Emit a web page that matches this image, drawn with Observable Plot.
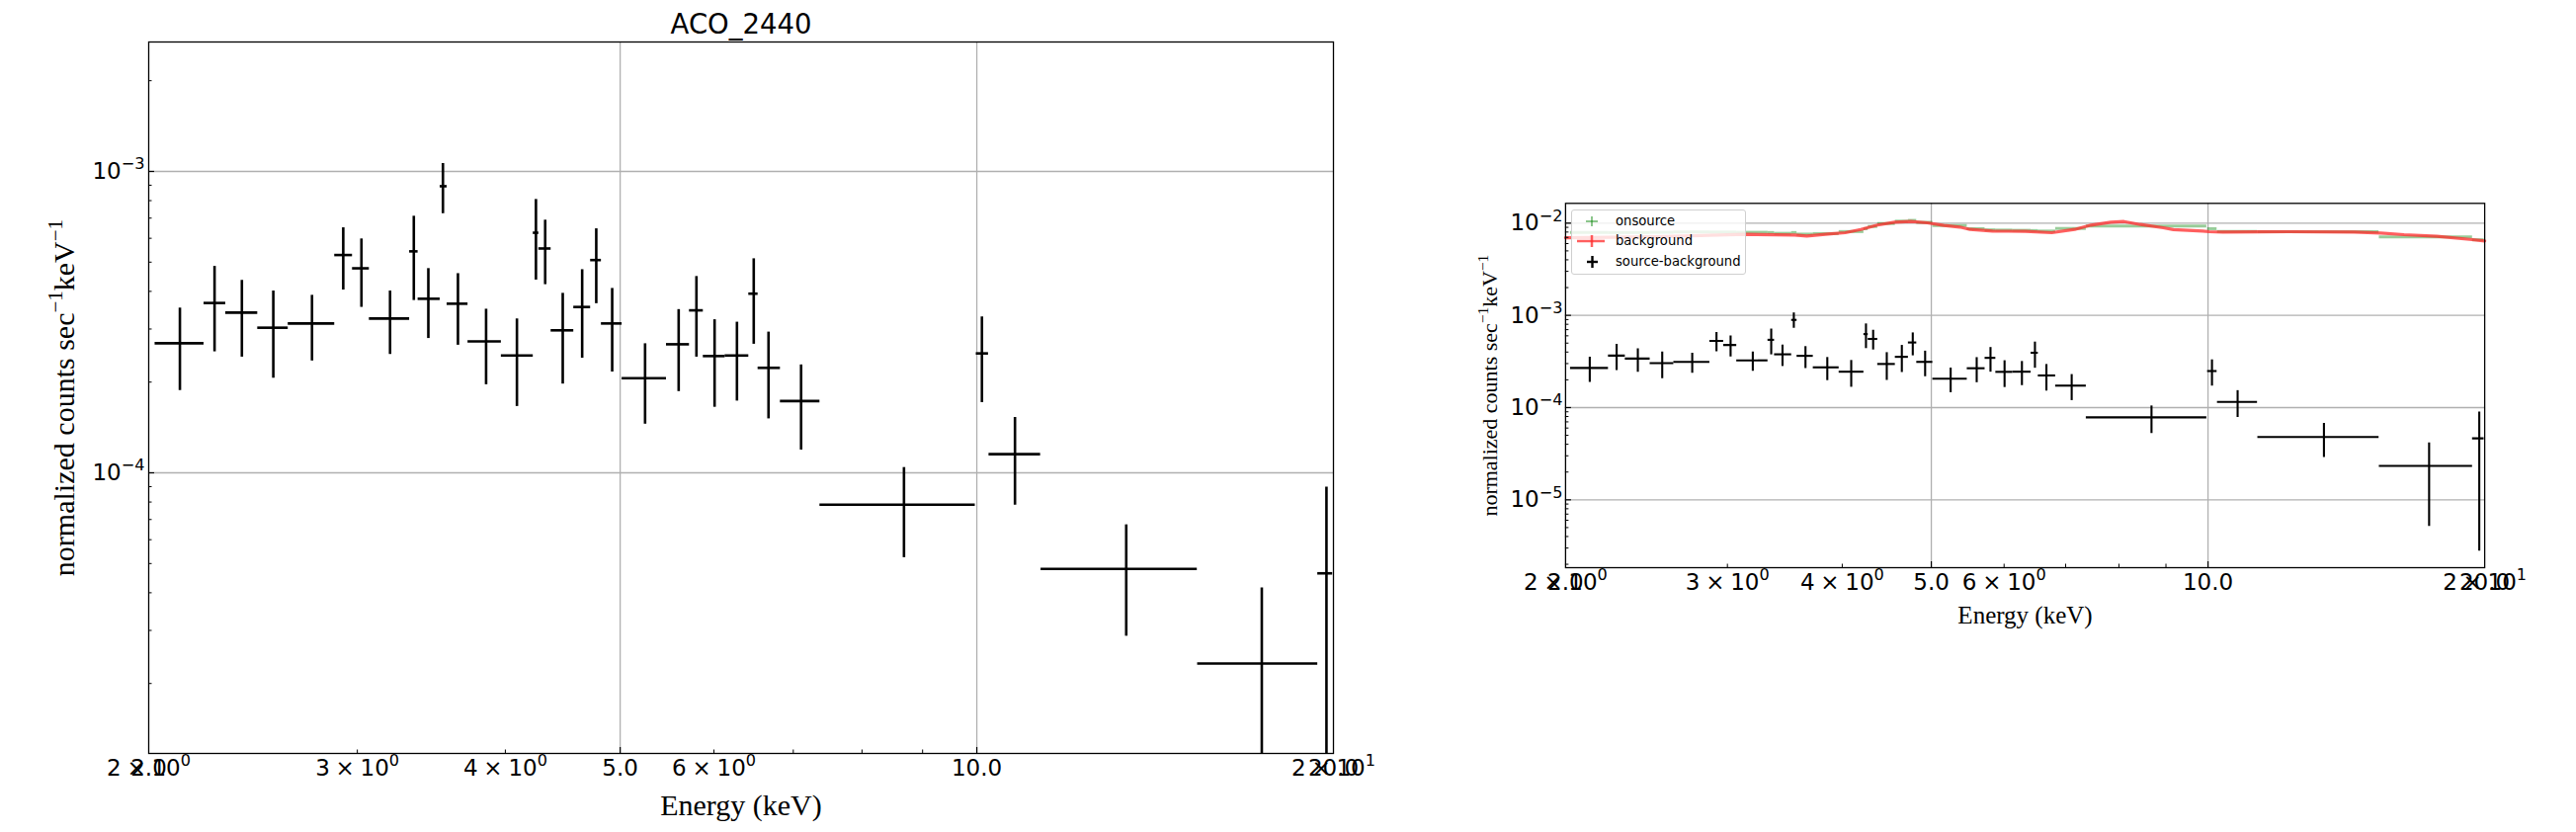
<!DOCTYPE html>
<html><head><meta charset="utf-8">
<script src="https://cdn.jsdelivr.net/npm/d3@7"></script>
<script src="https://cdn.jsdelivr.net/npm/@observablehq/plot@0.6"></script>
<style>
html,body{margin:0;padding:0;background:#fff;}
#wrap{position:relative;width:2607px;height:842px;overflow:hidden;background:#fff;}
.panel{position:absolute;top:0;}
#legend{position:absolute;left:1590px;top:212px;width:175px;height:64px;border:1.3px solid #cfcfcf;border-radius:3px;background:rgba(255,255,255,0.8);font-family:"DejaVu Sans";font-size:13.2px;color:#000;}
#legend .row{position:absolute;left:0;height:20px;width:175px;}
#legend svg{position:absolute;left:0;top:0;}
#legend span{position:absolute;left:44px;top:2px;white-space:nowrap;}
</style></head><body><div id="wrap"></div>
<script>
// ---------------- data ----------------
const title = "ACO_2440";
const xLabel = "Energy (keV)";
const yLabel = "normalized counts sec^−1keV^−1";
const seriesNames = ["onsource", "background", "source-background"];

// source-background spectrum (bin centers, bin edges, rate and error bounds)
const eCenter = [2.125, 2.273, 2.397, 2.548, 2.747, 2.919, 3.024, 3.197, 3.348, 3.444, 3.543, 3.648, 3.853, 4.091, 4.245, 4.322, 4.472, 4.644, 4.773, 4.923, 5.248, 5.602, 5.799, 6.007, 6.274, 6.482, 6.671, 7.107, 8.68, 10.10, 10.77, 13.37, 17.40, 19.73];
const eLo = [2.025, 2.227, 2.323, 2.472, 2.623, 2.871, 2.972, 3.071, 3.321, 3.376, 3.524, 3.572, 3.720, 3.969, 4.223, 4.269, 4.372, 4.569, 4.721, 4.821, 5.019, 5.471, 5.721, 5.877, 6.131, 6.420, 6.537, 6.827, 7.372, 9.99, 10.24, 11.33, 15.36, 19.40];
const eHi = [2.227, 2.323, 2.472, 2.623, 2.871, 2.972, 3.071, 3.321, 3.376, 3.524, 3.572, 3.720, 3.969, 4.223, 4.269, 4.372, 4.569, 4.721, 4.821, 5.019, 5.471, 5.721, 5.877, 6.131, 6.420, 6.537, 6.827, 7.372, 9.97, 10.23, 11.32, 15.35, 19.40, 19.97];
const rate = [2.69e-4, 3.66e-4, 3.40e-4, 3.03e-4, 3.13e-4, 5.28e-4, 4.77e-4, 3.25e-4, 5.43e-4, 3.78e-4, 8.93e-4, 3.64e-4, 2.73e-4, 2.45e-4, 6.26e-4, 5.55e-4, 2.97e-4, 3.55e-4, 5.08e-4, 3.13e-4, 2.06e-4, 2.67e-4, 3.46e-4, 2.44e-4, 2.45e-4, 3.93e-4, 2.23e-4, 1.73e-4, 7.84e-5, 2.49e-4, 1.153e-4, 4.80e-5, 2.33e-5, 4.64e-5];
const rateUp = [3.52e-4, 4.84e-4, 4.35e-4, 4.01e-4, 3.88e-4, 6.50e-4, 5.97e-4, 4.01e-4, 7.10e-4, 4.76e-4, 1.062e-3, 4.58e-4, 3.49e-4, 3.24e-4, 8.07e-4, 6.89e-4, 3.94e-4, 4.72e-4, 6.45e-4, 4.09e-4, 2.68e-4, 3.48e-4, 4.48e-4, 3.22e-4, 3.16e-4, 5.13e-4, 2.93e-4, 2.28e-4, 1.041e-4, 3.29e-4, 1.526e-4, 6.72e-5, 4.15e-5, 8.97e-5];
const rateDown = [1.875e-4, 2.52e-4, 2.42e-4, 2.06e-4, 2.35e-4, 4.04e-4, 3.54e-4, 2.47e-4, 3.73e-4, 2.79e-4, 7.24e-4, 2.65e-4, 1.96e-4, 1.66e-4, 4.36e-4, 4.21e-4, 1.97e-4, 2.40e-4, 3.64e-4, 2.16e-4, 1.45e-4, 1.86e-4, 2.42e-4, 1.65e-4, 1.73e-4, 2.67e-4, 1.51e-4, 1.19e-4, 5.23e-5, 1.71e-4, 7.81e-5, 2.87e-5, 5.13e-6, 2.77e-6];

// onsource spectrum (same bins)
const onsource = [7.9e-3, 7.9e-3, 7.9e-3, 7.95e-3, 8.0e-3, 8.0e-3, 8.0e-3, 7.95e-3, 7.9e-3, 7.75e-3, 7.9e-3, 7.6e-3, 7.7e-3, 8.1e-3, 8.7e-3, 9.2e-3, 9.9e-3, 1.05e-2, 1.07e-2, 1.02e-2, 9.4e-3, 8.7e-3, 8.45e-3, 8.4e-3, 8.35e-3, 8.3e-3, 8.2e-3, 8.75e-3, 9.28e-3, 8.7e-3, 8.1e-3, 8.05e-3, 7.08e-3, 6.6e-3];

// background spectrum (finely binned)
const bgEnergy = [2.0, 2.5, 3.14, 3.55, 3.66, 3.86, 4.03, 4.19, 4.37, 4.56, 4.75, 4.95, 5.16, 5.37, 5.51, 5.83, 6.33, 6.76, 7.16, 7.46, 7.84, 8.10, 8.44, 8.94, 9.17, 9.87, 10.03, 10.38, 12.24, 14.43, 15.42, 16.34, 17.75, 19.26, 20.0];
const bgRate = [6.95e-3, 7.1e-3, 7.55e-3, 7.43e-3, 7.26e-3, 7.62e-3, 7.87e-3, 8.54e-3, 9.52e-3, 1.025e-2, 1.04e-2, 1.007e-2, 9.43e-3, 9.06e-3, 8.54e-3, 8.21e-3, 8.13e-3, 7.87e-3, 8.54e-3, 9.52e-3, 1.025e-2, 1.04e-2, 9.66e-3, 8.9e-3, 8.5e-3, 8.2e-3, 8.07e-3, 8.0e-3, 8.07e-3, 8.0e-3, 7.81e-3, 7.49e-3, 7.19e-3, 6.67e-3, 6.41e-3];

// axes
const xDomain = [2, 20];
const xGrid = [5, 10];
const xTicksMajor = [2, 5, 10, 20];
const xTickLabelsMajor = ["2.0", "5.0", "10.0", "20.0"];
const xTicksMinorLabelled = [2, 3, 4, 6, 20];
const xTickLabelsMinor = ["2\u2005×\u200510^0", "3\u2005×\u200510^0", "4\u2005×\u200510^0", "6\u2005×\u200510^0", "2\u2005×\u200510^1"];
const xTicksMinor = [3, 4, 6, 7, 8, 9];
const leftYDomain = [1.172e-5, 2.688e-3];
const leftYTicks = [1e-3, 1e-4];
const leftYTickLabels = ["10^−3", "10^−4"];
const rightYDomain = [1.837e-6, 1.638e-2];
const rightYTicks = [1e-2, 1e-3, 1e-4, 1e-5];
const rightYTickLabels = ["10^−2", "10^−3", "10^−4", "10^−5"];
const minorMultipliers = [2, 3, 4, 5, 6, 7, 8, 9];
const decades = [1e-6, 1e-5, 1e-4, 1e-3, 1e-2];

// ---------------- build ----------------
const spec = eCenter.map((e, i) => ({e, lo: eLo[i], hi: eHi[i], v: rate[i], vUp: rateUp[i], vDown: rateDown[i], on: onsource[i]}));
const bg = bgEnergy.map((e, i) => ({e, v: bgRate[i]}));

function minorY(domain) {
  const out = [];
  decades.forEach(d => minorMultipliers.forEach(m => { const v = d * m; if (v > domain[0] && v < domain[1]) out.push(v); }));
  return out;
}

function supify(root, ratio, raiseEm) {
  d3.select(root).selectAll("text").each(function () {
    const s = this.textContent;
    if (!s || s.indexOf("^") < 0) return;
    let fs = parseFloat(getComputedStyle(this).fontSize);
    if (!isFinite(fs)) fs = 23;
    const raise = fs * raiseEm;
    const parts = s.split(/\^([−\-]?\d+)/);
    const t = d3.select(this);
    t.text(null);
    let up = false;
    parts.forEach((p, i) => {
      if (i % 2 === 0) {
        if (p === "") return;
        const ts = t.append("tspan").text(p);
        if (up) { ts.attr("dy", raise); up = false; }
      } else {
        t.append("tspan").text(p).attr("dy", -raise).attr("font-size", fs * ratio);
        up = true;
      }
    });
  });
}

function makePanel(o) {
  const plotW = o.width - o.mL - o.mR;
  const plotH = o.height - o.mT - o.mB;
  const majMap = new Map(xTicksMajor.map((d, i) => [d, xTickLabelsMajor[i]]));
  const minMap = new Map(xTicksMinorLabelled.map((d, i) => [d, xTickLabelsMinor[i]]));
  const yMap = new Map(o.yTicks.map((d, i) => [d, o.yTickLabels[i]]));
  const marks = [
    Plot.ruleX(xGrid, {x: d => d, stroke: "#b0b0b0", strokeWidth: 1.3}),
    Plot.ruleY(o.yTicks, {y: d => d, stroke: "#b0b0b0", strokeWidth: 1.3})
  ];
  if (o.withBg) {
    marks.push(
      Plot.ruleY(spec, {y: "on", x1: "lo", x2: "hi", stroke: "green", strokeOpacity: 0.4, strokeWidth: 3}),
      Plot.line(bg, {x: "e", y: "v", stroke: "#ff2a2a", strokeOpacity: 0.75, strokeWidth: 3.2})
    );
  }
  marks.push(
    Plot.ruleX(spec, {x: "e", y1: "vDown", y2: "vUp", stroke: "black", strokeWidth: o.ew, clip: true}),
    Plot.ruleY(spec, {y: "v", x1: "lo", x2: "hi", stroke: "black", strokeWidth: o.ew, clip: true}),
    Plot.ruleX([5, 10], {x: d => d, insetTop: plotH - 6, stroke: "black", strokeWidth: 1.2}),
    Plot.ruleX(xTicksMinor, {x: d => d, insetTop: plotH - 3.5, stroke: "black", strokeWidth: 1}),
    Plot.ruleY(o.yTicks, {y: d => d, insetRight: plotW - 6, stroke: "black", strokeWidth: 1.2}),
    Plot.ruleY(minorY(o.yDomain), {y: d => d, insetRight: plotW - 3.5, stroke: "black", strokeWidth: 1}),
    Plot.axisX({ticks: xTicksMinorLabelled, tickFormat: d => minMap.get(d), tickSize: 0, tickPadding: 6, fontSize: 23, label: null}),
    Plot.axisX({ticks: xTicksMajor, tickFormat: d => majMap.get(d), tickSize: 0, tickPadding: 6, fontSize: 23, label: null}),
    Plot.axisY({ticks: o.yTicks, tickFormat: d => yMap.get(d), tickSize: 0, tickPadding: o.yPad, fontSize: 23, label: null}),
    Plot.frame({stroke: "black", strokeWidth: 1.3}),
    Plot.text([xLabel], {frameAnchor: "bottom", lineAnchor: "middle", dy: o.xlabDy, fontSize: o.xlabFs, fontFamily: "Liberation Serif", textAnchor: "middle"}),
    Plot.text([yLabel], {frameAnchor: "left", lineAnchor: "middle", dx: o.ylabDx, rotate: -90, textAnchor: "middle", fontSize: o.ylabFs, fontFamily: "Liberation Serif"})
  );
  if (o.title) marks.push(Plot.text([o.title], {frameAnchor: "top", lineAnchor: "middle", dy: -17.5, fontSize: 27.5, textAnchor: "middle"}));
  const svg = Plot.plot({
    width: o.width, height: o.height,
    marginLeft: o.mL, marginRight: o.mR, marginTop: o.mT, marginBottom: o.mB,
    x: {type: "log", domain: xDomain, label: null},
    y: {type: "log", domain: o.yDomain, label: null},
    style: {fontFamily: "DejaVu Sans", fontSize: "23px", color: "black", background: "transparent", maxWidth: "none", overflow: "visible"},
    marks
  });
  const div = document.createElement("div");
  div.className = "panel";
  div.style.left = o.left + "px";
  div.appendChild(svg);
  document.getElementById("wrap").appendChild(div);
  supify(svg, 0.7, 0.42);
}

makePanel({left: 0, width: 1420, height: 842, mL: 150, mR: 71, mT: 42, mB: 80,
  yDomain: leftYDomain, yTicks: leftYTicks, yTickLabels: leftYTickLabels, yPad: 4,
  ew: 2.6, withBg: false, title, xlabDy: 52.4, xlabFs: 30, ylabDx: -85, ylabFs: 30});

makePanel({left: 1440, width: 1167, height: 842, mL: 143.9, mR: 92.9, mT: 205.3, mB: 268,
  yDomain: rightYDomain, yTicks: rightYTicks, yTickLabels: rightYTickLabels, yPad: 3,
  ew: 2.1, withBg: true, title: null, xlabDy: 48, xlabFs: 25, ylabDx: -76, ylabFs: 22});

// legend
const leg = document.createElement("div");
leg.id = "legend";
const rows = [
  {name: seriesNames[0], top: 1, svg: '<line x1="14" x2="26" y1="10" y2="10" stroke="green" stroke-opacity="0.45" stroke-width="2"/><line x1="20" x2="20" y1="5" y2="15" stroke="green" stroke-opacity="0.45" stroke-width="2"/>'},
  {name: seriesNames[1], top: 21, svg: '<line x1="5" x2="33" y1="10" y2="10" stroke="#ff2a2a" stroke-opacity="0.75" stroke-width="2.5"/><line x1="20" x2="20" y1="4" y2="16" stroke="#ff2a2a" stroke-opacity="0.75" stroke-width="2.5"/>'},
  {name: seriesNames[2], top: 42, svg: '<line x1="15" x2="26" y1="10" y2="10" stroke="black" stroke-width="2.4"/><line x1="20.5" x2="20.5" y1="4" y2="16" stroke="black" stroke-width="2.4"/>'}
];
rows.forEach(r => {
  const row = document.createElement("div");
  row.className = "row";
  row.style.top = r.top + "px";
  row.innerHTML = '<svg width="40" height="20">' + r.svg + '</svg><span>' + r.name + '</span>';
  leg.appendChild(row);
});
document.getElementById("wrap").appendChild(leg);
</script>
</body></html>
